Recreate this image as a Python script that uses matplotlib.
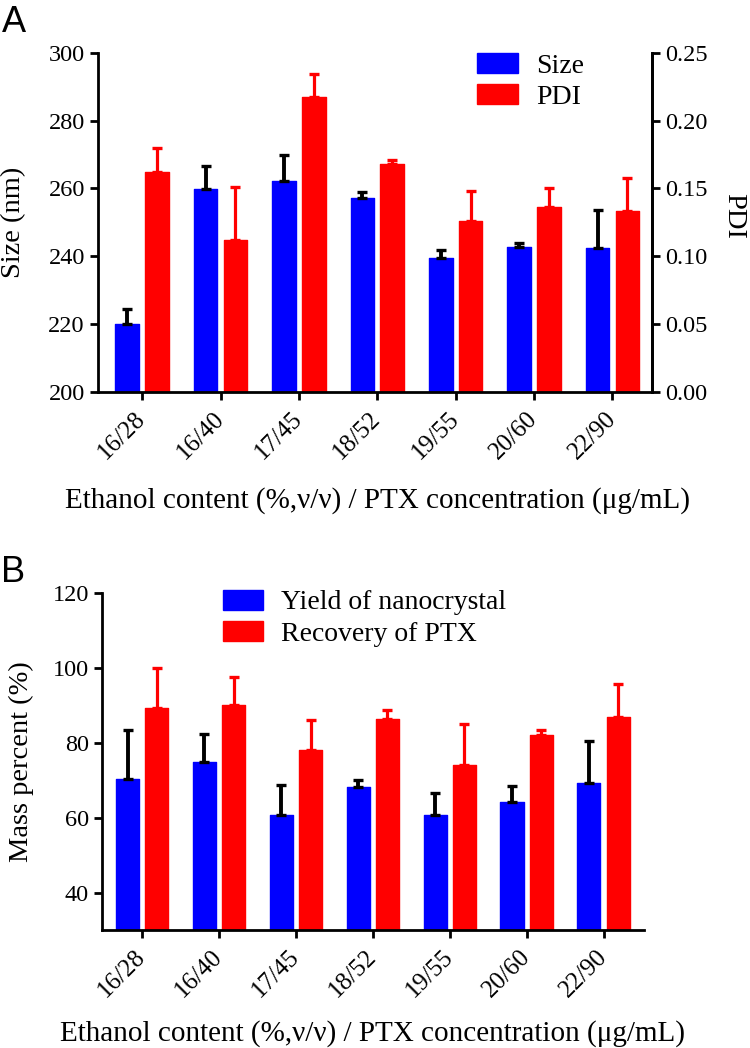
import numpy as np
import matplotlib
matplotlib.use('Agg')
import matplotlib.pyplot as plt

plt.rcParams['font.family'] = ['Liberation Serif', 'DejaVu Serif']

groups = ['16/28', '16/40', '17/45', '18/52', '19/55', '20/60', '22/90']

# panel A
size_nm = [220.0, 259.7, 262.3, 257.2, 239.6, 242.6, 242.3]
size_err = [4.4, 6.9, 7.6, 1.6, 2.2, 1.2, 11.4]
pdi = [0.162, 0.112, 0.217, 0.168, 0.126, 0.136, 0.133]
pdi_err = [0.018, 0.039, 0.017, 0.003, 0.022, 0.014, 0.025]

# panel B
yield_pct = [70.2, 74.9, 60.8, 68.2, 60.6, 64.3, 69.3]
yield_err = [13.1, 7.4, 8.0, 1.8, 6.1, 4.2, 11.3]
recov_pct = [89.3, 90.0, 78.2, 86.3, 74.0, 82.2, 87.0]
recov_err = [10.8, 7.7, 7.8, 2.4, 11.1, 1.1, 8.7]

blue = '#0000ff'
red = '#ff0000'
W, H = 750, 1048
fig = plt.figure(figsize=(7.5, 10.48), dpi=100)

x = np.arange(len(groups))
off = 0.19
bw = 0.30
xlab = 'Ethanol content (%,ν/ν) / PTX concentration (μg/mL)'


def style_axis(ax):
    for s in ['left', 'bottom', 'right']:
        ax.spines[s].set_linewidth(2.0)
    ax.spines['top'].set_visible(False)
    ax.tick_params(axis='both', width=2.0, length=6, direction='out')
    ax.tick_params(axis='y', labelsize=17.5)
    ax.set_xticks(x)
    ax.set_xticklabels(groups, rotation=45, ha='right', va='center',
                       rotation_mode='anchor', fontsize=18)
    ax.tick_params(axis='x', pad=11)


def bars(ax, v1, e1, v2, e2, ylo, lab1, lab2):
    ax.bar(x - off, np.array(v1) - ylo, bw, bottom=ylo, color=blue, edgecolor=blue,
           linewidth=1, joinstyle='round', label=lab1, zorder=2)
    ax.bar(x + off, np.array(v2) - ylo, bw, bottom=ylo, color=red, edgecolor=red,
           linewidth=1, joinstyle='round', label=lab2, zorder=2)
    ax.errorbar(x - off, v1, yerr=[np.zeros(len(e1)), e1], fmt='none', ecolor='black',
                elinewidth=2.8, capsize=3.6, capthick=2.4, zorder=3)
    ax.errorbar(x + off, v2, yerr=[np.zeros(len(e2)), e2], fmt='none', ecolor=red,
                elinewidth=2.3, capsize=3.3, capthick=2.4, zorder=3)


# ---------- A ----------
axA = fig.add_axes([98 / W, 1 - 392 / H, 554 / W, 339.3 / H])
# PDI drawn on size scale: 0.25 PDI <-> 100 nm
pdi_scaled = [200 + p * 400 for p in pdi]
pdi_err_scaled = [p * 400 for p in pdi_err]
bars(axA, size_nm, size_err, pdi_scaled, pdi_err_scaled, 200, 'Size', 'PDI')
axA.set_ylim(200, 300)
axA.set_xlim(-0.563, 6.505)
axA.set_yticks(np.arange(200, 301, 20))
style_axis(axA)
axA.set_ylabel('Size (nm)', fontsize=20.5, va='center')
axA.yaxis.set_label_coords(-0.153, 0.5)
axA.set_xlabel(xlab, fontsize=21, va='center')
axA.xaxis.set_label_coords(0.505, -0.321)

axA2 = axA.twinx()
axA2.set_ylim(0, 0.25)
axA2.set_yticks(np.arange(0, 0.251, 0.05))
axA2.set_yticklabels(['%.2f' % t for t in np.arange(0, 0.251, 0.05)])
axA2.spines['right'].set_linewidth(2.0)
axA2.spines['top'].set_visible(False)
axA2.spines['left'].set_visible(False)
axA2.spines['bottom'].set_visible(False)
axA2.tick_params(axis='y', width=2.0, length=6, labelsize=17.5)
axA2.set_ylabel('PDI', fontsize=20.5, rotation=270, va='center', ha='center')
axA2.yaxis.set_label_coords(1.148, 0.52)

axA.legend(loc='upper left', bbox_to_anchor=(0.685, 1.0), frameon=False, fontsize=20,
           handlelength=1.45, handleheight=0.75, handletextpad=0.65, labelspacing=0.2,
           borderpad=0, borderaxespad=0)

# ---------- B ----------
axB = fig.add_axes([102 / W, 1 - 930 / H, 541.5 / W, 337 / H])
bars(axB, yield_pct, yield_err, recov_pct, recov_err, 30, 'Yield of nanocrystal',
     'Recovery of PTX')
axB.set_ylim(30, 120)
axB.set_xlim(-0.523, 6.52)
axB.set_yticks(np.arange(40, 121, 20))
style_axis(axB)
axB.spines['right'].set_visible(False)
axB.set_ylabel('Mass percent (%)', fontsize=20.5, va='center')
axB.yaxis.set_label_coords(-0.149, 0.5)
axB.set_xlabel(xlab, fontsize=21, va='center')
axB.xaxis.set_label_coords(0.5, -0.306)
axB.legend(loc='upper left', bbox_to_anchor=(0.223, 1.01), frameon=False, fontsize=20,
           handlelength=1.45, handleheight=0.75, handletextpad=0.65, labelspacing=0.2,
           borderpad=0, borderaxespad=0)

fig.text(1.7 / W, 1 - 31.7 / H, 'A', fontsize=26, family='Liberation Sans', va='baseline')
fig.text(0.5 / W, 1 - 582 / H, 'B', fontsize=26, family='Liberation Sans', va='baseline')

fig.savefig('out.png', dpi=100)
